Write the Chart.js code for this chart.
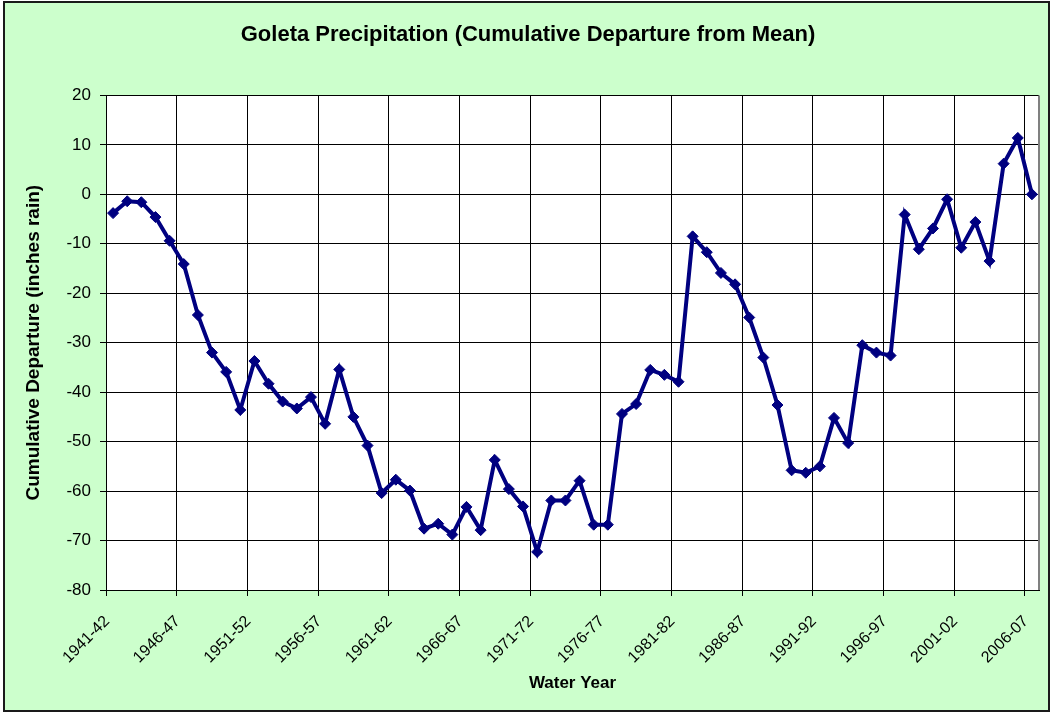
<!DOCTYPE html>
<html>
<head>
<meta charset="utf-8">
<script src="https://cdn.jsdelivr.net/npm/chart.js@4/dist/chart.umd.min.js"></script>
<style>
  html, body { margin: 0; padding: 0; background: #ffffff; }
  #wrap { position: absolute; left: 0; top: 0; width: 1050px; height: 713px; }
</style>
</head>
<body>
<div id="wrap"><canvas id="c" width="1050" height="713"></canvas></div>
<script>
const waterYears = [
  '1941-42','1942-43','1943-44','1944-45','1945-46','1946-47','1947-48','1948-49','1949-50','1950-51',
  '1951-52','1952-53','1953-54','1954-55','1955-56','1956-57','1957-58','1958-59','1959-60','1960-61',
  '1961-62','1962-63','1963-64','1964-65','1965-66','1966-67','1967-68','1968-69','1969-70','1970-71',
  '1971-72','1972-73','1973-74','1974-75','1975-76','1976-77','1977-78','1978-79','1979-80','1980-81',
  '1981-82','1982-83','1983-84','1984-85','1985-86','1986-87','1987-88','1988-89','1989-90','1990-91',
  '1991-92','1992-93','1993-94','1994-95','1995-96','1996-97','1997-98','1998-99','1999-00','2000-01',
  '2001-02','2002-03','2003-04','2004-05','2005-06','2006-07'
];
const cumulativeDeparture = [
  -3.8, -1.4, -1.6, -4.6, -9.4, -14.1, -24.4, -32.0, -35.9, -43.6,
  -33.7, -38.3, -41.9, -43.3, -41.0, -46.4, -35.4, -45.0, -50.8, -60.4,
  -57.7, -59.9, -67.6, -66.6, -68.8, -63.2, -67.9, -53.7, -59.6, -63.1,
  -72.3, -61.9, -61.9, -57.9, -66.8, -66.8, -44.4, -42.4, -35.5, -36.5,
  -37.9, -8.5, -11.7, -15.9, -18.2, -24.9, -33.0, -42.6, -55.8, -56.3,
  -55.0, -45.2, -50.3, -30.5, -32.0, -32.6, -4.1, -11.1, -6.9, -1.0,
  -10.8, -5.6, -13.5, 6.2, 11.4, 0.0
];
const yTicks = { min: -80, max: 20, step: 10 };
const labelEvery = 5;

const FONT = "'Liberation Sans', Arial, Helvetica, sans-serif";

const backgroundPlugin = {
  id: 'bg',
  beforeDraw(chart) {
    const ctx = chart.ctx;
    const a = chart.chartArea;
    ctx.save();
    ctx.fillStyle = '#ffffff';
    ctx.fillRect(0, 0, chart.width, chart.height);
    ctx.fillStyle = '#CCFFCC';
    ctx.fillRect(4, 2, 1046, 709);
    ctx.strokeStyle = '#1a1a1a';
    ctx.lineWidth = 2;
    ctx.strokeRect(4, 2, 1045, 709);
    ctx.fillStyle = '#ffffff';
    ctx.fillRect(a.left, a.top, a.right - a.left, a.bottom - a.top);
    ctx.restore();
  },
  beforeDatasetsDraw(chart) {
    const ctx = chart.ctx;
    const a = chart.chartArea;
    ctx.save();
    ctx.strokeStyle = '#808080';
    ctx.lineWidth = 2;
    ctx.beginPath();
    ctx.moveTo(a.right, a.top);
    ctx.lineTo(a.right, a.bottom);
    ctx.stroke();
    ctx.restore();
  }
};

new Chart(document.getElementById('c'), {
  type: 'line',
  data: {
    labels: waterYears,
    datasets: [{
      data: cumulativeDeparture,
      borderColor: '#000080',
      backgroundColor: '#000080',
      borderWidth: 4,
      pointStyle: 'rectRot',
      pointRadius: 5.5,
      pointBorderWidth: 1,
      pointBackgroundColor: '#000080',
      pointBorderColor: '#000080',
      tension: 0,
      fill: false
    }]
  },
  options: {
    responsive: false,
    animation: false,
    devicePixelRatio: 1,
    layout: { padding: { left: 17, right: 11, top: 0, bottom: 0 } },
    plugins: {
      legend: { display: false },
      tooltip: { enabled: false },
      title: {
        display: true,
        text: 'Goleta Precipitation (Cumulative Departure from Mean)',
        color: '#000000',
        font: { family: FONT, size: 22, weight: 'bold' },
        padding: { top: 22, bottom: 47 }
      }
    },
    scales: {
      x: {
        type: 'category',
        offset: true,
        grid: {
          offset: true,
          color: (ctx) => (ctx.index !== undefined && ctx.index % labelEvery === 0) ? '#000000' : 'rgba(0,0,0,0)',
          lineWidth: 1,
          tickLength: 6,
          drawTicks: true
        },
        border: { display: true, color: '#000000', width: 1 },
        ticks: {
          autoSkip: false,
          maxRotation: 45,
          minRotation: 45,
          padding: 16,
          labelOffset: -6,
          color: '#000000',
          font: { family: FONT, size: 16 },
          callback: function(value, index) {
            return index % labelEvery === 0 ? this.getLabelForValue(value) : '';
          }
        },
        title: {
          display: true,
          text: 'Water Year',
          color: '#000000',
          font: { family: FONT, size: 17, weight: 'bold' },
          padding: { top: 0, bottom: 19 }
        },
        afterFit(scale) {
          scale.height = 123;
          scale.paddingLeft = 0;
          scale.paddingRight = 0;
        }
      },
      y: {
        min: yTicks.min,
        max: yTicks.max,
        grid: {
          color: '#000000',
          lineWidth: 1,
          tickLength: 6,
          drawTicks: true
        },
        border: { display: true, color: '#000000', width: 1 },
        ticks: {
          stepSize: yTicks.step,
          padding: 9,
          color: '#000000',
          font: { family: FONT, size: 17 }
        },
        title: {
          display: true,
          text: 'Cumulative Departure (inches rain)',
          color: '#000000',
          font: { family: FONT, size: 19, weight: 'bold' },
          padding: { top: 5, bottom: 0 }
        },
        afterFit(scale) { scale.width = 89; }
      }
    }
  },
  plugins: [backgroundPlugin]
});
</script>
</body>
</html>
